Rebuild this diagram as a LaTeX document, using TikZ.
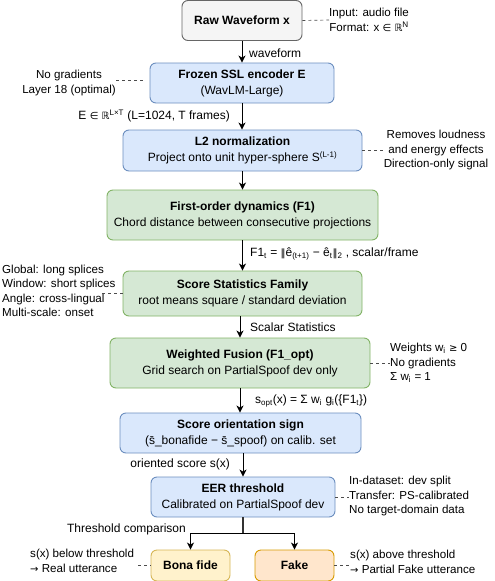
\documentclass[tikz,border=0pt]{standalone}
\usepackage{fontspec}
\setmainfont{Liberation Sans}
\newfontfamily\dv{DejaVu Sans}
\usetikzlibrary{arrows.meta}
\definecolor{grayfill}{HTML}{F5F5F5}
\definecolor{graydraw}{HTML}{666666}
\definecolor{bluefill}{HTML}{DAE8FC}
\definecolor{bluedraw}{HTML}{6C8EBF}
\definecolor{greenfill}{HTML}{D5E8D4}
\definecolor{greendraw}{HTML}{82B366}
\definecolor{yellowfill}{HTML}{FFF2CC}
\definecolor{yellowdraw}{HTML}{D6B656}
\definecolor{orangefill}{HTML}{FFE6CC}
\definecolor{orangedraw}{HTML}{D79B00}
\begin{document}
\begin{tikzpicture}[x=1pt,y=-1pt,
  font=\fontsize{11.6}{14.5}\selectfont,
  box/.style={rounded corners=6pt, draw, line width=0.9pt, align=center, inner sep=0pt,
    font=\fontsize{12}{16}\selectfont},
  graybox/.style={box, fill=grayfill, draw=graydraw},
  bluebox/.style={box, fill=bluefill, draw=bluedraw},
  greenbox/.style={box, fill=greenfill, draw=greendraw},
  yellowbox/.style={box, fill=yellowfill, draw=yellowdraw},
  orangebox/.style={box, fill=orangefill, draw=orangedraw},
  flow/.style={line width=1pt, -{Stealth[length=7pt,width=7pt,inset=2pt]}},
  note/.style={inner sep=0pt},
  notelink/.style={draw=black!70, line width=0.7pt, dash pattern=on 3pt off 3pt},
  lbl/.style={inner sep=0pt, font=\fontsize{12}{14}\selectfont}
]
\useasboundingbox (0,0) rectangle (495,581);

% main boxes
\node[graybox, minimum width=120, minimum height=40] (raw) at (242,20.5) {\textbf{Raw Waveform x}};
\node[bluebox, minimum width=184, minimum height=40] (ssl) at (242,83) {\textbf{Frozen SSL encoder E}\\(WavLM-Large)};
\node[bluebox, minimum width=239, minimum height=41] (l2) at (242.5,150.5) {\textbf{L2 normalization}\\Project onto unit hyper-sphere S\textsuperscript{(L-1)}};
\node[greenbox, minimum width=271, minimum height=50] (f1) at (242.5,215) {\textbf{First-order dynamics (F1)}\\Chord distance between consecutive projections};
\node[greenbox, minimum width=239, minimum height=45] (stats) at (242.5,293.5) {\textbf{Score Statistics Family}\\root means square / standard deviation};
\node[greenbox, minimum width=260, minimum height=50] (fusion) at (240,363) {\textbf{Weighted Fusion (F1\_opt)}\\Grid search on PartialSpoof dev only};
\node[bluebox, minimum width=241, minimum height=40] (orient) at (240.5,433) {\textbf{Score orientation sign}\\(\={s}\_bonafide \textminus{} \={s}\_spoof) on calib. set};
\node[bluebox, minimum width=184, minimum height=40] (eer) at (243,497) {\textbf{EER threshold}\\Calibrated on PartialSpoof dev};
\node[yellowbox, minimum width=79, minimum height=31] (bona) at (190.5,565.5) {\textbf{Bona fide}};
\node[orangebox, minimum width=79, minimum height=31] (fake) at (294.5,565.5) {\textbf{Fake}};

% flow arrows
\draw[flow] (raw.south) -- (raw.south |- ssl.north);
\draw[flow] (ssl.south) -- (ssl.south |- l2.north);
\draw[flow] (l2.south) -- (l2.south |- f1.north);
\draw[flow] (f1.south) -- (f1.south |- stats.north);
\draw[flow] (fusion.north |- stats.south) -- (fusion.north);
\draw[flow] (fusion.south) -- (fusion.south |- orient.north);
\draw[flow] (eer.north |- orient.south) -- (eer.north);
\draw[line width=1.3pt, black!80] (eer.south) -- ++(0,16) coordinate (split);
\draw[flow] (split) -| (bona.north);
\draw[flow] (split) -| (fake.north);

% edge labels
\node[lbl, anchor=west] (lwave) at (249,53) {waveform};
\node[lbl, anchor=east] (lemb) at (230,116) {E {\dv\fontsize{10}{12}\selectfont∈ ℝ}\textsuperscript{L×T} (L=1024, T frames)};
\node[lbl, anchor=west] (lf1) at (250,254) {F1\textsubscript{t} = {\dv\fontsize{10}{12}\selectfont‖}ê\textsubscript{(t+1)} \textminus{} ê\textsubscript{t}{\dv\fontsize{10}{12}\selectfont‖}\textsubscript{2} , scalar/frame};
\node[lbl, anchor=west] (lstat) at (250,327) {Scalar Statistics};
\node[lbl, anchor=west] (lsopt) at (255,401) {s\textsubscript{opt}(x) = Σ w\textsubscript{i} g\textsubscript{i}(\{F1\textsubscript{t}\})};
\node[lbl, anchor=east] (lorient) at (230,464) {oriented score s(x)};
\node[lbl, anchor=east] (lthr) at (186,529) {Threshold comparison};

% side notes
\node[note, align=center, anchor=west] (nraw) at (329,20) {Input: audio file\\Format: x {\dv\fontsize{10}{12}\selectfont∈ ℝ}\textsuperscript{N}};
\draw[notelink] (raw.east) -- (nraw.west);
\node[note, align=center] (nssl) at (69,83) {No gradients\\Layer 18 (optimal)};
\coordinate (nsslend) at (116,80);
\draw[notelink] (nsslend) -- (143,80);
\node[note, align=center] (nl2) at (436,150) {Removes loudness\\and energy effects\\Direction-only signal};
\draw[notelink] (l2.east) -- (nl2.west |- l2.east);
\node[note, align=left, anchor=west] (nstats) at (2,291) {Global: long splices\\Window: short splices\\Angle: cross-lingual\\Multi-scale: onset};
\coordinate (nstatsend) at (102,293);
\draw[notelink] (nstatsend) -- (stats.west |- nstatsend);
\node[note, align=left, anchor=west] (nfus) at (390,363) {Weights w\textsubscript{i} {\dv\fontsize{10}{12}\selectfont≥} 0\\No gradients\\Σ w\textsubscript{i} = 1};
\draw[notelink] (fusion.east) -- (nfus.west |- fusion.east);
\node[note, align=left, anchor=west] (neer) at (349,496) {In-dataset: dev split\\Transfer: PS-calibrated\\No target-domain data};
\draw[notelink] (eer.east) -- (neer.west |- eer.east);
\node[note, align=left, anchor=west] (nbona) at (30,561) {s(x) below threshold\\{\dv\fontsize{10}{12}\selectfont→} Real utterance};
\draw[notelink] (nbona.east |- bona.west) ++(4,0) -- (bona.west);
\node[note, align=left, anchor=west] (nfake) at (350,562) {s(x) above threshold\\{\dv\fontsize{10}{12}\selectfont→} Partial Fake utterance};
\draw[notelink] (fake.east) -- (nfake.west |- fake.east);
\end{tikzpicture}
\end{document}
